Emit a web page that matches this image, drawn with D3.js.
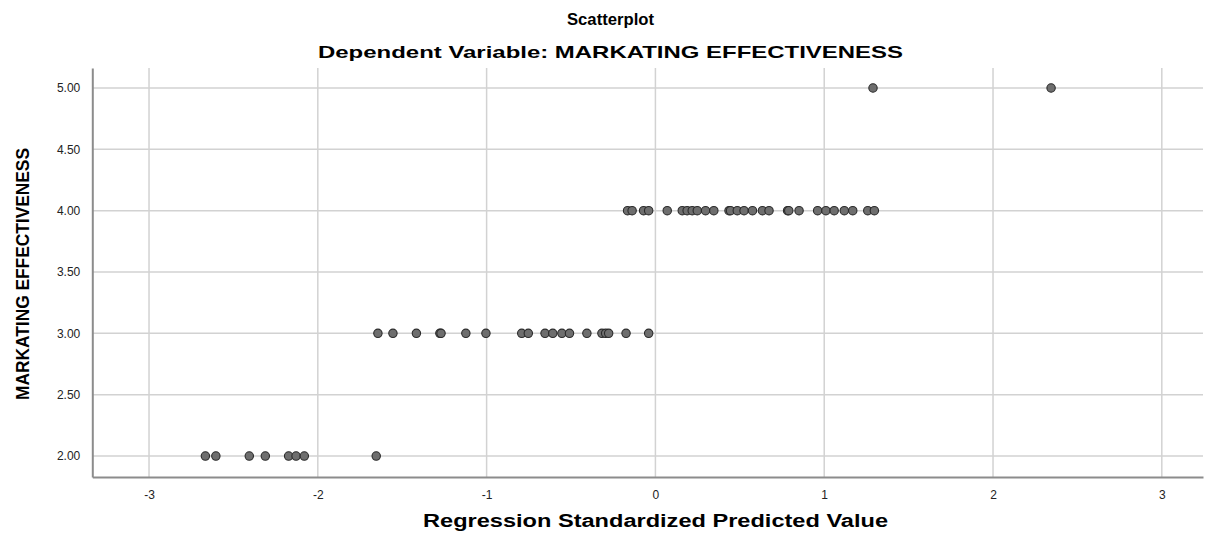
<!DOCTYPE html>
<html><head><meta charset="utf-8">
<script src="https://cdn.jsdelivr.net/npm/d3@7"></script>
<style>body{margin:0;background:#fff}</style>
</head><body>
<svg id="c" width="1221" height="536"></svg>
<script>
const title = "Scatterplot";
const subtitle = "Dependent Variable: MARKATING EFFECTIVENESS";
const xTitle = "Regression Standardized Predicted Value";
const yTitle = "MARKATING EFFECTIVENESS";
const xTicks = [-3, -2, -1, 0, 1, 2, 3];
const yTicks = [2.0, 2.5, 3.0, 3.5, 4.0, 4.5, 5.0];

const predY5 = [1.289, 2.344];
const predY4 = [-0.165, -0.138, -0.070, -0.040, 0.070, 0.159, 0.188, 0.218, 0.248, 0.297, 0.346, 0.436, 0.445, 0.485, 0.525, 0.575, 0.634, 0.673, 0.783, 0.79, 0.851, 0.961, 1.010, 1.059, 1.119, 1.169, 1.258, 1.297];
const predY3 = [-1.644, -1.555, -1.416, -1.277, -1.27, -1.123, -1.004, -0.792, -0.753, -0.654, -0.608, -0.554, -0.509, -0.406, -0.317, -0.295, -0.277, -0.174, -0.040];
const predY2 = [-2.666, -2.604, -2.406, -2.311, -2.173, -2.129, -2.080, -1.654];

const points = [];
predY5.forEach(v => points.push({x: v, y: 5}));
predY4.forEach(v => points.push({x: v, y: 4}));
predY3.forEach(v => points.push({x: v, y: 3}));
predY2.forEach(v => points.push({x: v, y: 2}));

const svg = d3.select("#c");
const L = 92.3, R = 1203, T = 68, B = 477;
const x = d3.scaleLinear().domain([-3.336, 3.244]).range([L, R]);
const y = d3.scaleLinear().domain([1.829, 5.163]).range([B, T]);

const font = "'Liberation Sans', Arial, sans-serif";

// grid
svg.append("g").selectAll("line").data(xTicks).join("line")
  .attr("x1", d => x(d)).attr("x2", d => x(d)).attr("y1", T).attr("y2", B)
  .attr("stroke", "#d2d2d2").attr("stroke-width", 1.5);
svg.append("g").selectAll("line").data(yTicks).join("line")
  .attr("x1", L).attr("x2", R).attr("y1", d => y(d)).attr("y2", d => y(d))
  .attr("stroke", "#d2d2d2").attr("stroke-width", 1.5);

// axes
const xAxis = d3.axisBottom(x).tickValues(xTicks).tickSize(0).tickPadding(13).tickFormat(d => String(d));
const gx = svg.append("g").attr("transform", `translate(0,${B})`).call(xAxis);
gx.select(".domain").attr("stroke", "#8c8c8c").attr("stroke-width", 2);
gx.selectAll("text").attr("font-family", font).attr("font-size", 12).attr("fill", "#222");

const yAxis = d3.axisLeft(y).tickValues(yTicks).tickSize(0).tickPadding(12).tickFormat(d3.format(".2f"));
const gy = svg.append("g").attr("transform", `translate(${L},0)`).call(yAxis);
gy.select(".domain").attr("stroke", "#8c8c8c").attr("stroke-width", 2);
gy.selectAll("text").attr("font-family", font).attr("font-size", 12).attr("fill", "#222");

// points
svg.append("g").selectAll("circle").data(points).join("circle")
  .attr("cx", d => x(d.x)).attr("cy", d => y(d.y)).attr("r", 4.2)
  .attr("fill", "#6e6e6e").attr("stroke", "#2a2a2a").attr("stroke-width", 1.1);

// titles
svg.append("text").attr("x", 567).attr("y", 25)
  .attr("font-family", font).attr("font-weight", "bold").attr("font-size", 16)
  .attr("textLength", 87).attr("lengthAdjust", "spacingAndGlyphs").text(title);
svg.append("text").attr("x", 318).attr("y", 58)
  .attr("font-family", font).attr("font-weight", "bold").attr("font-size", 17)
  .attr("textLength", 585).attr("lengthAdjust", "spacingAndGlyphs").text(subtitle);
svg.append("text").attr("x", 423).attr("y", 527)
  .attr("font-family", font).attr("font-weight", "bold").attr("font-size", 18)
  .attr("textLength", 465).attr("lengthAdjust", "spacingAndGlyphs").text(xTitle);
svg.append("text").attr("transform", "translate(29,274) rotate(-90)").attr("text-anchor", "middle")
  .attr("font-family", "'Liberation Sans Narrow', 'Arial Narrow', sans-serif").attr("font-weight", "bold")
  .attr("font-size", 18).attr("textLength", 252).attr("lengthAdjust", "spacingAndGlyphs").text(yTitle);
</script>
</body></html>
